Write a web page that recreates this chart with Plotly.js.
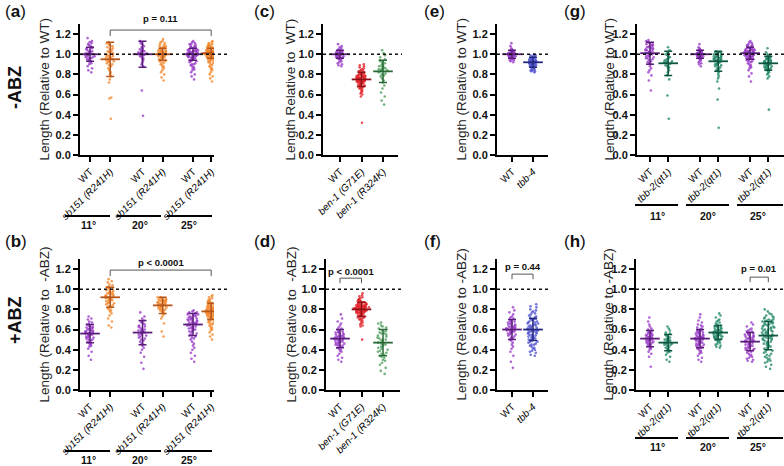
<!DOCTYPE html>
<html><head><meta charset="utf-8">
<script src="https://cdn.plot.ly/plotly-3.0.1.min.js"></script>
<style>html,body{margin:0;padding:0;background:#fff}#chart{width:784px;height:466px}</style>
</head><body><div id="chart"></div>
<script>
// ---------------- DATA ----------------
// (a) -ABZ, sb151
const a_wt11=[1.16,1.13,1.12,1.11,1.10,1.09,1.08,1.07,1.06,1.06,1.05,1.04,1.03,1.03,1.02,1.02,1.01,1.01,1.00,1.00,1.00,0.99,0.99,0.98,0.98,0.97,0.97,0.96,0.96,0.95,0.94,0.93,0.92,0.91,0.90,0.88,0.86,0.84,0.82,1.01];
const a_sb11=[1.12,1.11,1.10,1.09,1.08,1.07,1.06,1.05,1.04,1.03,1.02,1.02,1.01,1.00,1.00,0.99,0.99,0.98,0.98,0.97,0.97,0.96,0.96,0.95,0.95,0.94,0.94,0.93,0.93,0.92,0.91,0.90,0.89,0.88,0.86,0.84,0.82,0.80,0.78,0.75,0.72,0.57,0.56,0.36,1.00];
const a_wt20=[1.13,1.11,1.10,1.08,1.07,1.06,1.05,1.04,1.04,1.03,1.03,1.02,1.02,1.01,1.01,1.00,1.00,0.99,0.99,0.98,0.97,0.96,0.95,0.94,0.92,0.90,0.88,0.64,0.39,1.02];
const a_sb20=[1.15,1.13,1.12,1.11,1.10,1.09,1.08,1.08,1.07,1.07,1.06,1.06,1.05,1.05,1.04,1.04,1.04,1.03,1.03,1.03,1.02,1.02,1.02,1.01,1.01,1.01,1.00,1.00,1.00,1.00,0.99,0.99,0.99,0.98,0.98,0.98,0.97,0.97,0.97,0.96,0.96,0.95,0.95,0.94,0.94,0.93,0.93,0.92,0.91,0.90,0.89,0.88,0.87,0.86,0.84,0.82,0.80,0.77,0.74,1.00];
const a_wt25=[1.13,1.12,1.11,1.10,1.10,1.09,1.08,1.08,1.07,1.07,1.06,1.06,1.05,1.05,1.05,1.04,1.04,1.04,1.03,1.03,1.03,1.03,1.02,1.02,1.02,1.02,1.01,1.01,1.01,1.01,1.00,1.00,1.00,1.00,1.00,0.99,0.99,0.99,0.99,0.98,0.98,0.98,0.98,0.97,0.97,0.97,0.96,0.96,0.96,0.95,0.95,0.94,0.94,0.93,0.93,0.92,0.91,0.90,0.90,0.89,0.88,0.87,0.86,0.85,0.84,0.82,0.80,0.78,0.75,1.01];
const a_sb25=[1.13,1.12,1.11,1.10,1.10,1.09,1.09,1.08,1.08,1.08,1.07,1.07,1.07,1.06,1.06,1.06,1.06,1.05,1.05,1.05,1.05,1.04,1.04,1.04,1.04,1.04,1.03,1.03,1.03,1.03,1.03,1.02,1.02,1.02,1.02,1.02,1.02,1.01,1.01,1.01,1.01,1.01,1.01,1.00,1.00,1.00,1.00,1.00,1.00,0.99,0.99,0.99,0.99,0.99,0.98,0.98,0.98,0.98,0.98,0.97,0.97,0.97,0.97,0.96,0.96,0.96,0.95,0.95,0.95,0.94,0.94,0.93,0.93,0.92,0.92,0.91,0.90,0.89,0.88,0.87,0.86,0.85,0.84,0.82,0.80,0.78,0.76,0.73,1.00,1.01];
const a_mean=[1.00,0.95,1.00,1.00,1.00,1.01];
const a_sd=[0.07,0.17,0.13,0.06,0.06,0.05];
// (b) +ABZ, sb151
const b_wt11=[0.73,0.71,0.70,0.68,0.67,0.66,0.65,0.64,0.63,0.63,0.62,0.62,0.61,0.61,0.60,0.60,0.59,0.59,0.58,0.58,0.58,0.57,0.57,0.57,0.56,0.56,0.56,0.55,0.55,0.55,0.54,0.54,0.53,0.53,0.52,0.52,0.51,0.50,0.50,0.49,0.48,0.47,0.46,0.45,0.44,0.43,0.41,0.38,0.34,0.30];
const b_sb11=[1.10,1.08,1.07,1.05,1.04,1.03,1.02,1.01,1.00,1.00,0.99,0.98,0.98,0.97,0.96,0.96,0.95,0.95,0.94,0.94,0.93,0.93,0.92,0.92,0.92,0.91,0.91,0.90,0.90,0.89,0.89,0.88,0.88,0.87,0.86,0.86,0.85,0.84,0.83,0.82,0.81,0.80,0.79,0.78,0.76,0.74,0.71,0.68,0.64,0.62];
const b_wt20=[0.77,0.73,0.71,0.69,0.68,0.67,0.66,0.65,0.64,0.63,0.63,0.62,0.61,0.60,0.60,0.59,0.59,0.58,0.58,0.57,0.57,0.56,0.55,0.55,0.54,0.53,0.52,0.51,0.50,0.49,0.48,0.46,0.45,0.44,0.42,0.40,0.37,0.33,0.27,0.21];
const b_sb20=[0.92,0.92,0.91,0.91,0.90,0.90,0.90,0.89,0.89,0.89,0.88,0.88,0.88,0.87,0.87,0.87,0.86,0.86,0.86,0.85,0.85,0.85,0.84,0.84,0.84,0.83,0.83,0.83,0.82,0.82,0.81,0.81,0.80,0.80,0.79,0.79,0.78,0.77,0.76,0.75,0.73,0.71,0.66,0.58,0.53];
const b_wt25=[0.79,0.78,0.77,0.77,0.76,0.76,0.75,0.75,0.74,0.74,0.73,0.73,0.72,0.72,0.71,0.71,0.70,0.70,0.70,0.69,0.69,0.68,0.68,0.67,0.67,0.66,0.66,0.66,0.65,0.65,0.64,0.64,0.63,0.63,0.62,0.62,0.61,0.61,0.60,0.60,0.59,0.58,0.58,0.57,0.56,0.55,0.54,0.53,0.52,0.51,0.50,0.48,0.46,0.44,0.42,0.40,0.37,0.34,0.31,0.28];
const b_sb25=[0.94,0.93,0.92,0.91,0.90,0.89,0.89,0.88,0.88,0.87,0.87,0.86,0.86,0.85,0.85,0.85,0.84,0.84,0.84,0.83,0.83,0.83,0.82,0.82,0.82,0.81,0.81,0.81,0.81,0.80,0.80,0.80,0.80,0.79,0.79,0.79,0.79,0.78,0.78,0.78,0.78,0.78,0.77,0.77,0.77,0.77,0.77,0.76,0.76,0.76,0.76,0.75,0.75,0.75,0.75,0.74,0.74,0.74,0.73,0.73,0.73,0.72,0.72,0.72,0.71,0.71,0.70,0.70,0.69,0.69,0.68,0.68,0.67,0.66,0.66,0.65,0.64,0.63,0.62,0.61,0.60,0.59,0.57,0.55,0.53,0.50,0.80,0.79,0.78,0.76];
const b_mean=[0.56,0.92,0.57,0.84,0.65,0.78];
const b_sd=[0.09,0.10,0.12,0.08,0.11,0.08];
// (c) -ABZ, ben-1
const c_wt=[1.10,1.08,1.07,1.06,1.05,1.04,1.04,1.03,1.03,1.02,1.02,1.02,1.01,1.01,1.01,1.00,1.00,1.00,1.00,0.99,0.99,0.99,0.98,0.98,0.98,0.97,0.97,0.97,0.96,0.96,0.95,0.95,0.94,0.93,0.92,0.91,0.90,0.89,0.88,1.00];
const c_g71=[0.90,0.89,0.88,0.87,0.86,0.85,0.84,0.84,0.83,0.83,0.82,0.82,0.81,0.81,0.80,0.80,0.80,0.79,0.79,0.79,0.78,0.78,0.78,0.77,0.77,0.77,0.77,0.76,0.76,0.76,0.76,0.75,0.75,0.75,0.75,0.75,0.74,0.74,0.74,0.74,0.73,0.73,0.73,0.73,0.72,0.72,0.72,0.71,0.71,0.71,0.70,0.70,0.70,0.69,0.69,0.68,0.68,0.67,0.67,0.66,0.66,0.65,0.64,0.63,0.62,0.61,0.60,0.58,0.32,0.76,0.74,0.78,0.72,0.75,0.73];
const c_r324=[1.04,1.01,0.99,0.97,0.95,0.94,0.93,0.92,0.91,0.90,0.89,0.88,0.88,0.87,0.86,0.86,0.85,0.85,0.84,0.84,0.83,0.82,0.81,0.80,0.79,0.78,0.76,0.74,0.72,0.69,0.66,0.62,0.58,0.54,0.50];
const c_mean=[1.00,0.75,0.83];
const c_sd=[0.04,0.07,0.11];
// (d) +ABZ, ben-1
const d_wt=[0.75,0.71,0.68,0.66,0.64,0.62,0.61,0.60,0.59,0.58,0.58,0.57,0.57,0.56,0.56,0.55,0.55,0.54,0.54,0.53,0.53,0.53,0.52,0.52,0.52,0.51,0.51,0.51,0.50,0.50,0.50,0.49,0.49,0.49,0.48,0.48,0.47,0.47,0.46,0.46,0.45,0.45,0.44,0.44,0.43,0.42,0.41,0.40,0.39,0.38,0.36,0.34,0.32,0.30,0.28];
const d_g71=[0.96,0.94,0.93,0.92,0.91,0.90,0.90,0.89,0.89,0.88,0.88,0.87,0.87,0.87,0.86,0.86,0.86,0.85,0.85,0.85,0.85,0.84,0.84,0.84,0.84,0.83,0.83,0.83,0.83,0.82,0.82,0.82,0.82,0.82,0.81,0.81,0.81,0.81,0.81,0.80,0.80,0.80,0.80,0.80,0.79,0.79,0.79,0.79,0.79,0.78,0.78,0.78,0.78,0.77,0.77,0.77,0.77,0.76,0.76,0.76,0.75,0.75,0.75,0.74,0.74,0.74,0.73,0.73,0.72,0.72,0.71,0.71,0.70,0.70,0.69,0.68,0.67,0.66,0.65,0.64,0.63,0.50,0.80,0.81,0.79,0.83,0.78,0.82,0.77,0.84];
const d_r324=[0.67,0.66,0.64,0.63,0.62,0.61,0.60,0.59,0.58,0.57,0.56,0.56,0.55,0.54,0.53,0.52,0.51,0.50,0.50,0.49,0.48,0.47,0.46,0.46,0.45,0.44,0.43,0.42,0.41,0.40,0.39,0.38,0.37,0.36,0.35,0.34,0.33,0.32,0.30,0.29,0.27,0.25,0.22,0.19,0.16];
const d_mean=[0.51,0.80,0.47];
const d_sd=[0.09,0.07,0.13];
// (e) -ABZ, tbb-4
const e_wt=[1.11,1.08,1.06,1.05,1.04,1.04,1.03,1.03,1.03,1.02,1.02,1.02,1.02,1.01,1.01,1.01,1.01,1.00,1.00,1.00,1.00,1.00,0.99,0.99,0.99,0.99,0.99,0.98,0.98,0.98,0.98,0.97,0.97,0.97,0.96,0.96,0.96,0.95,0.95,0.94,0.94,0.93,0.92,1.00,1.01];
const e_tbb4=[1.00,0.99,0.99,0.98,0.98,0.97,0.97,0.96,0.96,0.96,0.95,0.95,0.95,0.94,0.94,0.94,0.94,0.93,0.93,0.93,0.93,0.92,0.92,0.92,0.92,0.92,0.91,0.91,0.91,0.91,0.90,0.90,0.90,0.90,0.89,0.89,0.89,0.88,0.88,0.88,0.87,0.87,0.86,0.86,0.85,0.85,0.84,0.84,0.83,0.83,0.82,0.92,0.91,0.93,0.90];
const e_mean=[1.00,0.92];
const e_sd=[0.04,0.05];
// (f) +ABZ, tbb-4
const f_wt=[0.82,0.79,0.77,0.75,0.73,0.72,0.71,0.70,0.69,0.68,0.68,0.67,0.66,0.66,0.65,0.65,0.64,0.64,0.63,0.63,0.62,0.62,0.62,0.61,0.61,0.61,0.60,0.60,0.60,0.59,0.59,0.59,0.58,0.58,0.58,0.57,0.57,0.56,0.56,0.55,0.55,0.54,0.53,0.52,0.51,0.50,0.49,0.47,0.45,0.43,0.41,0.38,0.34,0.28,0.22];
const f_tbb4=[0.85,0.83,0.82,0.80,0.79,0.78,0.77,0.76,0.75,0.74,0.73,0.72,0.72,0.71,0.70,0.70,0.69,0.68,0.68,0.67,0.67,0.66,0.66,0.65,0.65,0.64,0.64,0.63,0.63,0.62,0.62,0.61,0.61,0.60,0.60,0.60,0.59,0.59,0.59,0.58,0.58,0.58,0.57,0.57,0.56,0.56,0.55,0.55,0.54,0.54,0.53,0.53,0.52,0.52,0.51,0.51,0.50,0.50,0.49,0.48,0.48,0.47,0.46,0.45,0.45,0.44,0.43,0.42,0.41,0.40,0.39,0.38,0.37,0.35,0.34];
const f_mean=[0.60,0.60];
const f_sd=[0.10,0.11];
// (g) -ABZ, tbb-2
const g_wt11=[1.14,1.13,1.12,1.11,1.10,1.10,1.09,1.08,1.08,1.07,1.07,1.06,1.06,1.05,1.05,1.04,1.04,1.03,1.03,1.02,1.02,1.01,1.01,1.00,1.00,0.99,0.99,0.98,0.98,0.97,0.96,0.96,0.95,0.94,0.93,0.92,0.91,0.90,0.88,0.86,0.84,0.82,0.79,0.74,0.64];
const g_tbb11=[1.07,1.04,1.02,1.01,1.00,0.99,0.98,0.97,0.96,0.95,0.94,0.93,0.93,0.92,0.92,0.91,0.91,0.90,0.89,0.88,0.87,0.86,0.84,0.82,0.79,0.75,0.59,0.36];
const g_wt20=[1.10,1.07,1.06,1.05,1.04,1.04,1.03,1.03,1.03,1.02,1.02,1.02,1.02,1.01,1.01,1.01,1.01,1.00,1.00,1.00,1.00,1.00,0.99,0.99,0.99,0.99,0.99,0.98,0.98,0.98,0.98,0.97,0.97,0.97,0.96,0.96,0.95,0.95,0.94,0.93,0.92,0.91,0.90,0.88,1.00];
const g_tbb20=[1.03,1.02,1.02,1.01,1.01,1.00,1.00,0.99,0.99,0.99,0.98,0.98,0.98,0.97,0.97,0.97,0.96,0.96,0.96,0.95,0.95,0.95,0.94,0.94,0.94,0.93,0.93,0.93,0.92,0.92,0.91,0.91,0.90,0.90,0.89,0.89,0.88,0.87,0.86,0.85,0.84,0.83,0.82,0.80,0.78,0.76,0.73,0.66,0.55,0.27];
const g_wt25=[1.13,1.12,1.11,1.10,1.09,1.09,1.08,1.08,1.07,1.07,1.06,1.06,1.06,1.05,1.05,1.05,1.04,1.04,1.04,1.04,1.03,1.03,1.03,1.03,1.02,1.02,1.02,1.02,1.02,1.01,1.01,1.01,1.01,1.01,1.00,1.00,1.00,1.00,1.00,0.99,0.99,0.99,0.99,0.98,0.98,0.98,0.98,0.97,0.97,0.97,0.96,0.96,0.96,0.95,0.95,0.94,0.94,0.93,0.93,0.92,0.91,0.90,0.89,0.88,0.87,0.86,0.84,0.81,0.78,0.73];
const g_tbb25=[1.06,1.02,1.00,0.99,0.98,0.97,0.97,0.96,0.96,0.95,0.95,0.94,0.94,0.93,0.93,0.93,0.92,0.92,0.92,0.91,0.91,0.91,0.90,0.90,0.90,0.89,0.89,0.89,0.88,0.88,0.87,0.87,0.86,0.86,0.85,0.85,0.84,0.84,0.83,0.82,0.81,0.80,0.78,0.76,0.45];
const g_mean=[1.01,0.91,1.00,0.93,1.01,0.91];
const g_sd=[0.11,0.12,0.04,0.10,0.06,0.07];
// (h) +ABZ, tbb-2
const h_wt11=[0.72,0.68,0.65,0.63,0.61,0.60,0.59,0.58,0.57,0.57,0.56,0.56,0.55,0.55,0.54,0.54,0.53,0.53,0.52,0.52,0.52,0.51,0.51,0.51,0.50,0.50,0.50,0.49,0.49,0.48,0.48,0.47,0.47,0.46,0.45,0.45,0.44,0.43,0.42,0.41,0.40,0.38,0.36,0.33,0.23];
const h_tbb11=[0.63,0.61,0.59,0.57,0.56,0.55,0.54,0.53,0.52,0.51,0.51,0.50,0.50,0.49,0.49,0.48,0.48,0.47,0.47,0.46,0.46,0.45,0.45,0.44,0.43,0.42,0.41,0.40,0.39,0.38,0.37,0.35,0.33,0.30,0.28];
const h_wt20=[0.75,0.72,0.69,0.67,0.65,0.64,0.63,0.62,0.61,0.60,0.59,0.59,0.58,0.58,0.57,0.57,0.56,0.56,0.55,0.55,0.54,0.54,0.53,0.53,0.53,0.52,0.52,0.52,0.51,0.51,0.51,0.50,0.50,0.50,0.49,0.49,0.49,0.48,0.48,0.47,0.47,0.46,0.46,0.45,0.45,0.44,0.44,0.43,0.42,0.42,0.41,0.40,0.39,0.38,0.37,0.36,0.34,0.32,0.30,0.28];
const h_tbb20=[0.76,0.74,0.72,0.70,0.69,0.68,0.67,0.66,0.65,0.64,0.64,0.63,0.63,0.62,0.62,0.61,0.61,0.60,0.60,0.59,0.59,0.59,0.58,0.58,0.58,0.57,0.57,0.57,0.56,0.56,0.56,0.55,0.55,0.55,0.54,0.54,0.54,0.53,0.53,0.53,0.52,0.52,0.51,0.51,0.50,0.50,0.49,0.49,0.48,0.47,0.46,0.45,0.44,0.43,0.42];
const h_wt25=[0.67,0.65,0.63,0.61,0.60,0.59,0.58,0.58,0.57,0.56,0.56,0.55,0.55,0.54,0.54,0.53,0.53,0.52,0.52,0.51,0.51,0.50,0.50,0.49,0.49,0.48,0.48,0.47,0.47,0.46,0.46,0.45,0.45,0.44,0.44,0.43,0.43,0.42,0.42,0.41,0.41,0.40,0.40,0.39,0.38,0.37,0.36,0.35,0.34,0.33,0.32,0.31,0.30,0.29,0.28];
const h_tbb25=[0.80,0.78,0.76,0.75,0.74,0.73,0.72,0.72,0.71,0.70,0.70,0.69,0.69,0.68,0.68,0.67,0.67,0.66,0.66,0.65,0.65,0.64,0.64,0.63,0.63,0.62,0.62,0.61,0.61,0.60,0.60,0.59,0.59,0.58,0.58,0.57,0.57,0.56,0.56,0.55,0.55,0.54,0.54,0.53,0.53,0.52,0.52,0.51,0.51,0.50,0.50,0.49,0.48,0.48,0.47,0.46,0.46,0.45,0.44,0.43,0.43,0.42,0.41,0.40,0.39,0.38,0.37,0.36,0.35,0.34,0.33,0.32,0.31,0.30,0.29,0.28,0.27,0.25,0.23,0.21];
const h_mean=[0.51,0.47,0.51,0.57,0.48,0.54];
const h_sd=[0.08,0.08,0.09,0.07,0.09,0.14];

// tick labels
const lab_sb=['WT','<i>sb151 (R241H)</i>','WT','<i>sb151 (R241H)</i>','WT','<i>sb151 (R241H)</i>'];
const lab_ben=['WT','<i>ben-1 (G71E)</i>','<i>ben-1 (R324K)</i>'];
const lab_tbb4=['WT','<i>tbb-4</i>'];
const lab_tbb2=['WT','<i>tbb-2(qt1)</i>','WT','<i>tbb-2(qt1)</i>','WT','<i>tbb-2(qt1)</i>'];
const temps=['11°','20°','25°'];
const pvals={a:'p = 0.11',b:'p < 0.0001',d:'p < 0.0001',f:'p = 0.44',h:'p = 0.01'};

// ---------------- STYLE / LAYOUT ----------------
const W=784,H=466;
const px=x=>x/W, py=y=>1-y/H;
const YMAX=1.3;
const FONT='Liberation Sans, Arial, sans-serif';
const PU='#9a3cc8',PUd='#5a1c7a',OR='#f28a30',ORd='#b5561a',RE='#e3242b',REd='#8c1016',
      GR='#4f9f5c',GRd='#2a6a37',BL='#5054d0',BLd='#23287f',TE='#23896a',TEd='#0e5640';
const ROW1=[155,24], ROW2=[390,259];
const valY=(row,v)=>py(row[0]-v*(row[0]-row[1])/YMAX);
const panels=[
 {id:'',  row:ROW1,xd:[80,214], cat0:90, sl:20.2,pos:[0,1,2.6,3.6,5.1,6.0],groups:[a_wt11,a_sb11,a_wt20,a_sb20,a_wt25,a_sb25],mean:a_mean,sd:a_sd,col:[PU,OR,PU,OR,PU,OR],dk:[PUd,ORd,PUd,ORd,PUd,ORd],lab:lab_sb},
 {id:'2', row:ROW2,xd:[80,214], cat0:90, sl:20.2,pos:[0,1,2.6,3.6,5.1,6.0],groups:[b_wt11,b_sb11,b_wt20,b_sb20,b_wt25,b_sb25],mean:b_mean,sd:b_sd,col:[PU,OR,PU,OR,PU,OR],dk:[PUd,ORd,PUd,ORd,PUd,ORd],lab:lab_sb},
 {id:'3', row:ROW1,xd:[323,398],cat0:340,sl:21.5,pos:[0,1,2],groups:[c_wt,c_g71,c_r324],mean:c_mean,sd:c_sd,col:[PU,RE,GR],dk:[PUd,REd,GRd],lab:lab_ben},
 {id:'4', row:ROW2,xd:[326,400],cat0:340,sl:21.5,pos:[0,1,2],groups:[d_wt,d_g71,d_r324],mean:d_mean,sd:d_sd,col:[PU,RE,GR],dk:[PUd,REd,GRd],lab:lab_ben},
 {id:'5', row:ROW1,xd:[497,548],cat0:512,sl:21,pos:[0,1],groups:[e_wt,e_tbb4],mean:e_mean,sd:e_sd,col:[PU,BL],dk:[PUd,BLd],lab:lab_tbb4},
 {id:'6', row:ROW2,xd:[497,548],cat0:512,sl:21,pos:[0,1],groups:[f_wt,f_tbb4],mean:f_mean,sd:f_sd,col:[PU,BL],dk:[PUd,BLd],lab:lab_tbb4},
 {id:'7', row:ROW1,xd:[637,784],cat0:650,sl:18.2,pos:[0,1,2.75,3.75,5.5,6.5],groups:[g_wt11,g_tbb11,g_wt20,g_tbb20,g_wt25,g_tbb25],mean:g_mean,sd:g_sd,col:[PU,TE,PU,TE,PU,TE],dk:[PUd,TEd,PUd,TEd,PUd,TEd],lab:lab_tbb2},
 {id:'8', row:ROW2,xd:[636,784],cat0:650,sl:18.2,pos:[0,1,2.75,3.75,5.5,6.5],groups:[h_wt11,h_tbb11,h_wt20,h_tbb20,h_wt25,h_tbb25],mean:h_mean,sd:h_sd,col:[PU,TE,PU,TE,PU,TE],dk:[PUd,TEd,PUd,TEd,PUd,TEd],lab:lab_tbb2}
];

const traces=[];
const layout={width:W,height:H,margin:{l:0,r:0,t:0,b:0},paper_bgcolor:'#fff',plot_bgcolor:'rgba(0,0,0,0)',
  showlegend:false,boxmode:'overlay',font:{family:FONT,color:'#111'},shapes:[],annotations:[]};

panels.forEach(p=>{
  const xa='x'+p.id, ya='y'+p.id;
  p.groups.forEach((vals,i)=>{
    traces.push({type:'box',x:vals.map(()=>p.pos[i]),y:vals,xaxis:xa,yaxis:ya,
      boxpoints:'all',jitter:1,pointpos:0,width:Math.min(0.9,0.35+vals.length/230),
      line:{width:0,color:'rgba(0,0,0,0)'},fillcolor:'rgba(0,0,0,0)',whiskerwidth:0,
      marker:{size:2.6,color:p.col[i],opacity:0.8},hoverinfo:'skip'});
    traces.push({type:'scatter',mode:'markers',x:[p.pos[i]],y:[p.mean[i]],xaxis:xa,yaxis:ya,
      marker:{symbol:'line-ew',size:14,color:p.dk[i],line:{width:1.8,color:p.dk[i]}},
      error_y:{type:'data',array:[p.sd[i]],color:p.dk[i],thickness:1.5,width:4},hoverinfo:'skip'});
  });
  const r0=(p.xd[0]-p.cat0)/p.sl, r1=(p.xd[1]-p.cat0)/p.sl;
  layout['xaxis'+p.id]={domain:[px(p.xd[0]),px(p.xd[1])],range:[r0,r1],anchor:ya,
    tickmode:'array',tickvals:p.pos,ticktext:p.lab,tickangle:-45,
    showline:true,linecolor:'#000',linewidth:2,ticks:'outside',ticklen:5,tickwidth:2,tickcolor:'#000',
    showgrid:false,zeroline:false,tickfont:{family:FONT,size:10,color:'#000'},fixedrange:true};
  layout['yaxis'+p.id]={domain:[py(p.row[0]),py(p.row[1])],range:[0,YMAX],anchor:xa,
    tickmode:'array',tickvals:[0,0.2,0.4,0.6,0.8,1.0,1.2],tickformat:'.1f',
    showline:true,linecolor:'#000',linewidth:2,ticks:'outside',ticklen:5,tickwidth:2,tickcolor:'#000',
    showgrid:false,zeroline:false,tickfont:{family:FONT,size:11,color:'#111',weight:'bold'},fixedrange:true};
});

// dotted reference lines at 1.0
const dotEnd={'':227,'2':227,'3':402,'4':402,'5':549,'6':549,'7':784,'8':784};
panels.forEach(p=>{
  const y=valY(p.row,1.0);
  layout.shapes.push({type:'line',xref:'paper',yref:'paper',x0:px(p.xd[0]),x1:px(dotEnd[p.id]),y0:y,y1:y,
    line:{color:'#111',width:1.5,dash:'dot'}});
});

// brackets
function bracket(pi,i0,i1,top,leg,text,ty){
  const p=panels[pi], xa='x'+p.id, ya='y'+p.id;
  layout.shapes.push({type:'path',xref:xa,yref:ya,path:`M${i0},${leg} L${i0},${top} L${i1},${top} L${i1},${leg}`,line:{color:'#555',width:1}});
  layout.annotations.push({xref:xa,yref:'paper',x:(i0+i1)/2,y:valY(p.row,ty),text:'<b>'+text+'</b>',showarrow:false,font:{size:9.5,color:'#111'},yanchor:'middle'});
}
bracket(0,1,6.0,1.24,1.18,pvals.a,1.35);
bracket(1,1,6.0,1.19,1.13,pvals.b,1.27);
bracket(3,0,1,1.11,1.06,pvals.d,1.18);
bracket(5,0,1,1.15,1.10,pvals.f,1.23);
bracket(7,5.5,6.5,1.12,1.07,pvals.h,1.21);

// temperature group lines & labels
function groups(lines,ly,lblY,cx){
  lines.forEach((seg,k)=>{
    layout.shapes.push({type:'line',xref:'paper',yref:'paper',x0:px(seg[0]),x1:px(seg[1]),y0:py(ly),y1:py(ly),line:{color:'#000',width:1.8}});
    layout.annotations.push({xref:'paper',yref:'paper',x:px(cx[k]),y:py(lblY),text:'<b>'+temps[k]+'</b>',showarrow:false,font:{size:10.5,color:'#111'},xanchor:'center',yanchor:'middle'});
  });
}
const segAB=[[65,110],[117,161],[167,212]], segGH=[[635,678],[686,729],[737,783]];
groups(segAB,216,225,[88,140,189]);
groups(segAB,451,460,[88,140,189]);
groups(segGH,205,216,[657,708,758]);
groups(segGH,438,447,[657,708,758]);

// y titles
const ytitles=[['Length (Relative to WT)',44,89.5],['Length (Relative to \u00a0-ABZ)',44,324.5],
  ['Length Relative to \u00a0WT)',290,89.5],['Length (Relative to \u00a0-ABZ)',291,324.5],
  ['Length (Relative to WT)',461,89.5],['Length (Relative to -ABZ)',461,324.5],
  ['Length (Relative to WT)',609,89.5],['Length (Relative to -ABZ)',608,324.5]];
ytitles.forEach(t=>layout.annotations.push({xref:'paper',yref:'paper',x:px(t[1]),y:py(t[2]),text:t[0],textangle:-90,
  showarrow:false,xanchor:'center',yanchor:'middle',font:{size:13.5,color:'#222'}}));

// panel letters
[['a',3,11],['b',3,242],['c',252,11],['d',252,242],['e',422,11],['f',422,241],['g',562,11],['h',562,242]].forEach(l=>
  layout.annotations.push({xref:'paper',yref:'paper',x:px(l[1]),y:py(l[2]),text:'(<b>'+l[0]+'</b>)',showarrow:false,
    xanchor:'left',yanchor:'middle',font:{size:17,color:'#111'}}));
// row labels
[['-ABZ',15,88],['+ABZ',15,320]].forEach(l=>
  layout.annotations.push({xref:'paper',yref:'paper',x:px(l[1]),y:py(l[2]),text:'<b>'+l[0]+'</b>',textangle:-90,showarrow:false,
    xanchor:'center',yanchor:'middle',font:{size:18,color:'#111'}}));

Plotly.newPlot('chart',traces,layout,{staticPlot:true,displayModeBar:false});
</script></body></html>
